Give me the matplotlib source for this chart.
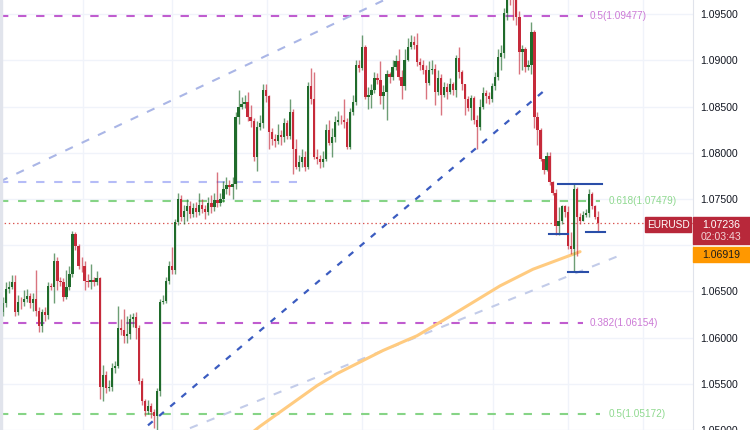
import numpy as np
import matplotlib.pyplot as plt
from matplotlib.patches import Rectangle

plt.rcParams["lines.scale_dashes"] = False
plt.rcParams["font.family"] = ["Liberation Sans", "DejaVu Sans"]

# EURUSD candles (open of each candle = previous close)
first_open = 1.0628
closes = [1.0637, 1.0653, 1.0655, 1.0660, 1.0628, 1.0639, 1.0638, 1.0642, 1.0645, 1.0637,
          1.0642, 1.0629, 1.0613, 1.0628, 1.0625, 1.0656, 1.0655, 1.0683, 1.0661, 1.0660,
          1.0644, 1.0655, 1.0669, 1.0712, 1.0699, 1.0678, 1.0677, 1.0661, 1.0660, 1.0662,
          1.0660, 1.0665, 1.0547, 1.0559, 1.0545, 1.0546, 1.0567, 1.0569, 1.0610, 1.0608,
          1.0602, 1.0604, 1.0620, 1.0622, 1.0610, 1.0553, 1.0531, 1.0521, 1.0526, 1.0520,
          1.0515, 1.0542, 1.0639, 1.0640, 1.0661, 1.0678, 1.0673, 1.0725, 1.0750, 1.0730,
          1.0737, 1.0742, 1.0734, 1.0740, 1.0736, 1.0744, 1.0739, 1.0736, 1.0746, 1.0741,
          1.0749, 1.0746, 1.0750, 1.0761, 1.0765, 1.0763, 1.0766, 1.0839, 1.0850, 1.0853,
          1.0855, 1.0839, 1.0834, 1.0795, 1.0828, 1.0832, 1.0868, 1.0861, 1.0822, 1.0815,
          1.0813, 1.0819, 1.0817, 1.0832, 1.0818, 1.0844, 1.0804, 1.0785, 1.0790, 1.0796,
          1.0785, 1.0872, 1.0858, 1.0796, 1.0793, 1.0790, 1.0793, 1.0825, 1.0811, 1.0817,
          1.0833, 1.0836, 1.0835, 1.0833, 1.0806, 1.0844, 1.0855, 1.0895, 1.0892, 1.0914,
          1.0860, 1.0863, 1.0868, 1.0881, 1.0879, 1.0861, 1.0866, 1.0885, 1.0882, 1.0893,
          1.0899, 1.0882, 1.0872, 1.0901, 1.0914, 1.0920, 1.0917, 1.0898, 1.0895, 1.0890,
          1.0876, 1.0890, 1.0891, 1.0866, 1.0881, 1.0863, 1.0871, 1.0866, 1.0875, 1.0868,
          1.0903, 1.0887, 1.0874, 1.0858, 1.0849, 1.0859, 1.0836, 1.0828, 1.0850, 1.0865,
          1.0861, 1.0858, 1.0872, 1.0882, 1.0904, 1.0908, 1.0951, 1.0972, 1.0969, 1.0965,
          1.0947, 1.0909, 1.0912, 1.0893, 1.0895, 1.0931, 1.0839, 1.0825, 1.0793, 1.0781,
          1.0797, 1.0768, 1.0757, 1.0721, 1.0726, 1.0742, 1.0736, 1.0699, 1.0696, 1.0761,
          1.0731, 1.0726, 1.0733, 1.0735, 1.0755, 1.0742, 1.0731, 1.0724]
highs = [1.0644, 1.0660, 1.0661, 1.0668, 1.0668, 1.0646, 1.0644, 1.0651, 1.0653, 1.0648,
         1.0648, 1.0673, 1.0633, 1.0631, 1.0633, 1.0660, 1.0659, 1.0692, 1.0687, 1.0666,
         1.0664, 1.0673, 1.0677, 1.0715, 1.0714, 1.0701, 1.0687, 1.0683, 1.0669, 1.0680,
         1.0666, 1.0672, 1.0666, 1.0570, 1.0564, 1.0554, 1.0572, 1.0575, 1.0634, 1.0620,
         1.0631, 1.0623, 1.0626, 1.0627, 1.0628, 1.0614, 1.0556, 1.0534, 1.0532, 1.0529,
         1.0523, 1.0545, 1.0642, 1.0646, 1.0666, 1.0683, 1.0698, 1.0728, 1.0757, 1.0754,
         1.0744, 1.0750, 1.0748, 1.0746, 1.0747, 1.0757, 1.0750, 1.0744, 1.0752, 1.0754,
         1.0756, 1.0779, 1.0757, 1.0769, 1.0774, 1.0771, 1.0774, 1.0844, 1.0868, 1.0860,
         1.0863, 1.0866, 1.0852, 1.0838, 1.0834, 1.0841, 1.0875, 1.0874, 1.0863, 1.0827,
         1.0820, 1.0831, 1.0825, 1.0838, 1.0836, 1.0858, 1.0847, 1.0815, 1.0798, 1.0804,
         1.0802, 1.0877, 1.0892, 1.0888, 1.0804, 1.0798, 1.0802, 1.0831, 1.0836, 1.0827,
         1.0840, 1.0845, 1.0841, 1.0858, 1.0838, 1.0849, 1.0863, 1.0901, 1.0901, 1.0928,
         1.0917, 1.0871, 1.0874, 1.0888, 1.0886, 1.0899, 1.0873, 1.0890, 1.0888, 1.0901,
         1.0906, 1.0912, 1.0890, 1.0912, 1.0924, 1.0928, 1.0926, 1.0930, 1.0903, 1.0901,
         1.0895, 1.0899, 1.0901, 1.0896, 1.0890, 1.0885, 1.0877, 1.0876, 1.0881, 1.0877,
         1.0906, 1.0914, 1.0890, 1.0874, 1.0862, 1.0863, 1.0862, 1.0841, 1.0858, 1.0871,
         1.0868, 1.0866, 1.0876, 1.0888, 1.0912, 1.0917, 1.0957, 1.0982, 1.0978, 1.0974,
         1.0971, 1.0953, 1.0917, 1.0914, 1.0901, 1.0942, 1.0933, 1.0844, 1.0827, 1.0793,
         1.0801, 1.0801, 1.0769, 1.0761, 1.0741, 1.0744, 1.0744, 1.0742, 1.0714, 1.0766,
         1.0763, 1.0735, 1.0737, 1.0739, 1.0761, 1.0758, 1.0744, 1.0737]
lows = [1.0623, 1.0633, 1.0648, 1.0653, 1.0623, 1.0625, 1.0631, 1.0634, 1.0639, 1.0632,
        1.0629, 1.0623, 1.0606, 1.0606, 1.0618, 1.0620, 1.0651, 1.0637, 1.0651, 1.0656,
        1.0640, 1.0642, 1.0651, 1.0666, 1.0695, 1.0674, 1.0671, 1.0651, 1.0655, 1.0653,
        1.0656, 1.0657, 1.0534, 1.0531, 1.0540, 1.0542, 1.0542, 1.0562, 1.0567, 1.0603,
        1.0594, 1.0594, 1.0599, 1.0612, 1.0599, 1.0550, 1.0527, 1.0515, 1.0517, 1.0513,
        1.0502, 1.0500, 1.0537, 1.0636, 1.0637, 1.0658, 1.0669, 1.0669, 1.0722, 1.0726,
        1.0723, 1.0726, 1.0729, 1.0730, 1.0730, 1.0733, 1.0735, 1.0728, 1.0733, 1.0735,
        1.0737, 1.0741, 1.0742, 1.0747, 1.0755, 1.0754, 1.0750, 1.0761, 1.0831, 1.0847,
        1.0849, 1.0834, 1.0828, 1.0791, 1.0780, 1.0825, 1.0827, 1.0855, 1.0804, 1.0809,
        1.0806, 1.0810, 1.0809, 1.0812, 1.0815, 1.0815, 1.0777, 1.0782, 1.0780, 1.0785,
        1.0780, 1.0782, 1.0853, 1.0793, 1.0788, 1.0784, 1.0785, 1.0791, 1.0808, 1.0796,
        1.0812, 1.0830, 1.0831, 1.0827, 1.0804, 1.0804, 1.0841, 1.0852, 1.0888, 1.0890,
        1.0858, 1.0847, 1.0849, 1.0865, 1.0875, 1.0853, 1.0847, 1.0836, 1.0876, 1.0879,
        1.0890, 1.0879, 1.0858, 1.0868, 1.0899, 1.0912, 1.0912, 1.0894, 1.0890, 1.0885,
        1.0858, 1.0873, 1.0885, 1.0852, 1.0863, 1.0841, 1.0860, 1.0858, 1.0864, 1.0863,
        1.0860, 1.0881, 1.0868, 1.0841, 1.0845, 1.0836, 1.0831, 1.0804, 1.0825, 1.0847,
        1.0854, 1.0853, 1.0855, 1.0868, 1.0879, 1.0890, 1.0903, 1.0944, 1.0960, 1.0944,
        1.0938, 1.0885, 1.0890, 1.0888, 1.0890, 1.0885, 1.0827, 1.0809, 1.0791, 1.0777,
        1.0780, 1.0765, 1.0754, 1.0711, 1.0711, 1.0723, 1.0730, 1.0696, 1.0690, 1.0671,
        1.0688, 1.0723, 1.0726, 1.0730, 1.0730, 1.0739, 1.0728, 1.0714]

# 200-period moving average (bar index, price)
ma_idx = [80.1, 85.1, 104.0, 110.6, 125.8, 137.1, 148.0, 164.6, 175.5, 191.1]
ma_val = [1.0491, 1.0504, 1.0548, 1.0561, 1.0586, 1.0602, 1.0623, 1.0656, 1.0674, 1.0693]

# fibonacci levels
fib_names = ["0.5", "0.618", "0.382", "0.5"]
fib_levels = [1.09477, 1.07479, 1.06154, 1.05172]
fib_colors = ["#c05ccf", "#86d486", "#c05ccf", "#86d486"]
fib_text_colors = ["#cc7ad6", "#8fd98f", "#cc7ad6", "#8fd98f"]

# drawings: trend lines (bar index, price)
upper_trend = ([-1.0, 126.0], [1.0769, 1.0965])
channel_mid = ([48.0, 179.5], [1.0505, 1.0868])
lower_trend = ([61.9, 204.3], [1.0502, 1.0689])
old_level = 1.0768
supports = [(180.8, 187.1, 1.0712), (193.0, 199.3, 1.0714), (187.1, 193.7, 1.0671)]
resistance = (183.8, 198.3, 1.0766)

last_price = 1.07236
ma_last = 1.06919
countdown = "02:03:43"
price_ticks = [1.050, 1.055, 1.060, 1.065, 1.070, 1.075, 1.080, 1.085, 1.090, 1.095]

W, H = 750, 430
fig = plt.figure(figsize=(7.5, 4.3), dpi=100)
ax = fig.add_axes([0, 0, 693 / W, 1])
ax.set_xlim(-1.0, 228.5)
ax.set_ylim(1.05019, 1.09654)

# grid
for y in price_ticks:
    ax.axhline(y, color="#f0f3fa", lw=1, zorder=0)
for x in [26.5, 56.0, 87.4, 118.9, 162.3, 187.1, 211.9]:
    ax.axvline(x, color="#f0f3fa", lw=1, zorder=0)

# candles
closes = np.array(closes)
opens = np.concatenate([[first_open], closes[:-1]])
highs = np.maximum(highs, np.maximum(opens, closes))
lows = np.minimum(lows, np.minimum(opens, closes))
idx = np.arange(len(closes))
up = closes >= opens
green, red = "#1f6b2b", "#c62a3a"
cols = np.where(up, green, red)
ax.vlines(idx, lows, highs, colors=cols, lw=1, alpha=0.65, zorder=3)
bottoms = np.minimum(opens, closes)
heights = np.maximum(np.abs(closes - opens), 0.00004)
ax.bar(idx, heights, bottom=bottoms, width=0.75, color=cols, zorder=4, linewidth=0)

# horizontal dashed lines
ax.plot([-1, 97.4], [old_level] * 2, color="#b5bcf7", lw=1.5, dashes=(6, 7), zorder=2)
for name, lev, c, tc in zip(fib_names, fib_levels, fib_colors, fib_text_colors):
    end = 192.1 if c == "#c05ccf" else 197.7
    tx = 194.4 if c == "#c05ccf" else 200.7
    ax.plot([-1, end], [lev, lev], color=c, lw=1.5, dashes=(6, 7), zorder=2)
    ax.text(tx, lev, f"{name}({lev:.5f})", color=tc, fontsize=7.2, va="center", ha="left")

# trend lines
ax.plot(*upper_trend, color="#aab6e6", lw=1.5, dashes=(6, 7), zorder=2)
ax.plot(*channel_mid, color="#3b5cc0", lw=1.6, dashes=(4.5, 6), zorder=2)
ax.plot(*lower_trend, color="#c3cce9", lw=1.5, dashes=(6, 7), zorder=2)

# moving average
ax.plot(ma_idx, ma_val, color="#ffcb80", lw=2.2, zorder=2, solid_capstyle="round")

# support / resistance marks
for x0, x1, y in supports + [resistance]:
    ax.plot([x0, x1], [y, y], color="#2a4ea8", lw=1.5, zorder=5)

# last price line
ax.axhline(last_price, color="#d9534f", lw=0.9, ls=(0, (1, 2)), zorder=1)

# axes styling
for s in ["top", "left", "bottom"]:
    ax.spines[s].set_visible(False)
ax.spines["right"].set_color("#e0e3eb")
ax.set_xticks([])
ax.yaxis.tick_right()
ax.set_yticks(price_ticks)
ax.set_yticklabels(["" if abs(t - 1.07) < 1e-9 else f"{t:.5f}" for t in price_ticks])
ax.tick_params(axis="y", length=0, pad=5, labelsize=7.6, labelcolor="#131722")

# left toolbar edge
fig.patches.append(Rectangle((0, 0), 2 / W, 1, transform=fig.transFigure,
                             color="#e1e4ec", zorder=10))

# price labels on the right
def box(x, y, w, h, color):
    fig.patches.append(Rectangle((x / W, 1 - (y + h) / H), w / W, h / H,
                                 transform=fig.transFigure, color=color, zorder=10))

box(645, 217, 46, 15, "#b8283a")
fig.text(668 / W, 1 - 224.5 / H, "EURUSD", color="white", fontsize=7.3,
         ha="center", va="center", zorder=11)
box(693, 217, 57, 27, "#b8283a")
fig.text(721 / W, 1 - 224.5 / H, f"{last_price:.5f}", color="white", fontsize=7.6,
         ha="center", va="center", zorder=11)
fig.text(721 / W, 1 - 237 / H, countdown, color="#f2d4d7", fontsize=7.6,
         ha="center", va="center", zorder=11)
box(693, 247, 57, 15, "#ff9800")
fig.text(721 / W, 1 - 254.5 / H, f"{ma_last:.5f}", color="#1d1d1d", fontsize=7.6,
         ha="center", va="center", zorder=11)

fig.savefig("out.png", dpi=100)
